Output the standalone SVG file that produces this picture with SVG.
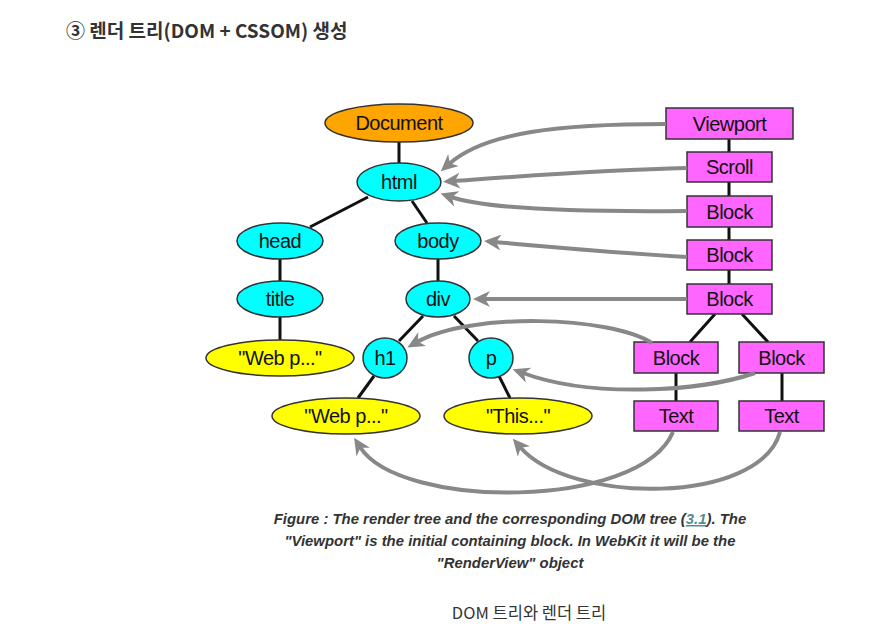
<svg xmlns="http://www.w3.org/2000/svg" width="874" height="644" viewBox="0 0 874 644">
<defs>
<style>
.n{stroke:#333;stroke-width:1.5}
.dom{fill:#00FFFF}
.doc{fill:#FFA500}
.txt{fill:#FFFF00}
.rb{fill:#FF66FF}
.lbl{font-family:"Liberation Sans",Arial,sans-serif;font-size:20px;fill:#111;text-anchor:middle;letter-spacing:-0.5px}
.e{stroke:#111;stroke-width:3;fill:none}
.ar{stroke:#888;stroke-width:4;fill:none;marker-end:url(#ah)}
.cap{font-family:"Liberation Sans",Arial,sans-serif;font-size:14.9px;font-weight:bold;font-style:italic;fill:#333;text-anchor:middle}
</style>
<marker id="ah" markerUnits="userSpaceOnUse" markerWidth="18" markerHeight="16" viewBox="0 0 18 16" refX="6" refY="8" orient="auto">
<path d="M0,0 L17,8 L0,16 L5,8 z" fill="#888"/>
</marker>
</defs>
<rect width="874" height="644" fill="#fff"/>
<text x="66" y="38" font-family="'Noto Sans CJK KR','Noto Sans',sans-serif" font-size="19" font-weight="bold" fill="#333">③ 렌더 트리(DOM + CSSOM) 생성</text>

<g id="edges">
<path class="e" d="M399,142 L399,163"/>
<path class="e" d="M368,197 L310,227"/>
<path class="e" d="M412,201 L427,223"/>
<path class="e" d="M280,259 L280,281"/>
<path class="e" d="M438,259 L438,281"/>
<path class="e" d="M280,317 L280,340"/>
<path class="e" d="M423,316 L399,341"/>
<path class="e" d="M454,316 L478,341"/>
<path class="e" d="M374,376 L358,398"/>
<path class="e" d="M499,376 L510,398"/>
<path class="e" d="M729,139 L729,152 M729,182 L729,196 M729,227 L729,240 M729,270 L729,284"/>
<path class="e" d="M715,314 L690,342 M742,314 L768,342"/>
<path class="e" d="M676,373 L676,401 M782,373 L782,401"/>
</g>

<g id="node-document"><ellipse class="n doc" cx="399" cy="123" rx="74" ry="19"/><text class="lbl" x="399" y="130">Document</text></g>
<g id="node-html"><ellipse class="n dom" cx="399" cy="182" rx="42" ry="19"/><text class="lbl" x="399" y="189">html</text></g>
<g id="node-head"><ellipse class="n dom" cx="280" cy="241" rx="43" ry="18"/><text class="lbl" x="280" y="248">head</text></g>
<g id="node-body"><ellipse class="n dom" cx="438" cy="241" rx="43" ry="18"/><text class="lbl" x="438" y="248">body</text></g>
<g id="node-title"><ellipse class="n dom" cx="280" cy="299" rx="43" ry="18"/><text class="lbl" x="280" y="306">title</text></g>
<g id="node-div"><ellipse class="n dom" cx="438" cy="299" rx="32" ry="18"/><text class="lbl" x="438" y="306">div</text></g>
<g id="node-webp1"><ellipse class="n txt" cx="280" cy="358" rx="74" ry="18"/><text class="lbl" x="280" y="365">"Web p..."</text></g>
<g id="node-h1"><ellipse class="n dom" cx="385" cy="358" rx="22" ry="20"/><text class="lbl" x="385" y="365">h1</text></g>
<g id="node-p"><ellipse class="n dom" cx="491" cy="358" rx="22" ry="20"/><text class="lbl" x="491" y="365">p</text></g>
<g id="node-webp2"><ellipse class="n txt" cx="346" cy="416" rx="74" ry="18"/><text class="lbl" x="346" y="423">"Web p..."</text></g>
<g id="node-this"><ellipse class="n txt" cx="518" cy="416" rx="74" ry="18"/><text class="lbl" x="518" y="423">"This..."</text></g>

<g id="node-viewport"><rect class="n rb" x="666" y="108" width="127" height="31"/><text class="lbl" x="729.5" y="131">Viewport</text></g>
<g id="node-scroll"><rect class="n rb" x="687" y="152" width="85" height="30"/><text class="lbl" x="729.5" y="174">Scroll</text></g>
<g id="node-block1"><rect class="n rb" x="687" y="196" width="85" height="31"/><text class="lbl" x="729.5" y="219">Block</text></g>
<g id="node-block2"><rect class="n rb" x="687" y="240" width="85" height="30"/><text class="lbl" x="729.5" y="262">Block</text></g>
<g id="node-block3"><rect class="n rb" x="687" y="284" width="85" height="30"/><text class="lbl" x="729.5" y="306">Block</text></g>
<g id="node-block4"><rect class="n rb" x="634" y="342" width="84" height="31"/><text class="lbl" x="676" y="365">Block</text></g>
<g id="node-block5"><rect class="n rb" x="739" y="342" width="85" height="31"/><text class="lbl" x="781.5" y="365">Block</text></g>
<g id="node-text1"><rect class="n rb" x="634" y="401" width="84" height="30"/><text class="lbl" x="676" y="423">Text</text></g>
<g id="node-text2"><rect class="n rb" x="739" y="401" width="85" height="30"/><text class="lbl" x="781.5" y="423">Text</text></g>

<g id="connectors">
<path class="ar" d="M666,124 C560,124 485,132 449,164"/>
<path class="ar" d="M687,168 C600,170 510,177 454,181"/>
<path class="ar" d="M687,211 C590,212 490,210 451,197"/>
<path class="ar" d="M687,257 C620,253 540,246 495,242"/>
<path class="ar" d="M687,299 L484,299"/>
<path class="ar" d="M652,343 C610,316 470,312 417,342"/>
<path class="ar" d="M755,373 C700,392 590,398 523,373"/>
<path class="ar" d="M673,432 C640,510 400,510 360,447"/>
<path class="ar" d="M780,432 C760,505 570,505 520,447"/>
</g>

<text class="cap" x="510" y="524">Figure : The render tree and the corresponding DOM tree (<tspan fill="#4f8f8f" text-decoration="underline">3.1</tspan>). The</text>
<text class="cap" x="510" y="546">"Viewport" is the initial containing block. In WebKit it will be the</text>
<text class="cap" x="510" y="568">"RenderView" object</text>
<text x="529" y="619" font-family="'Noto Sans CJK KR','Noto Sans',sans-serif" font-size="16.5" fill="#333" text-anchor="middle">DOM 트리와 렌더 트리</text>
</svg>
